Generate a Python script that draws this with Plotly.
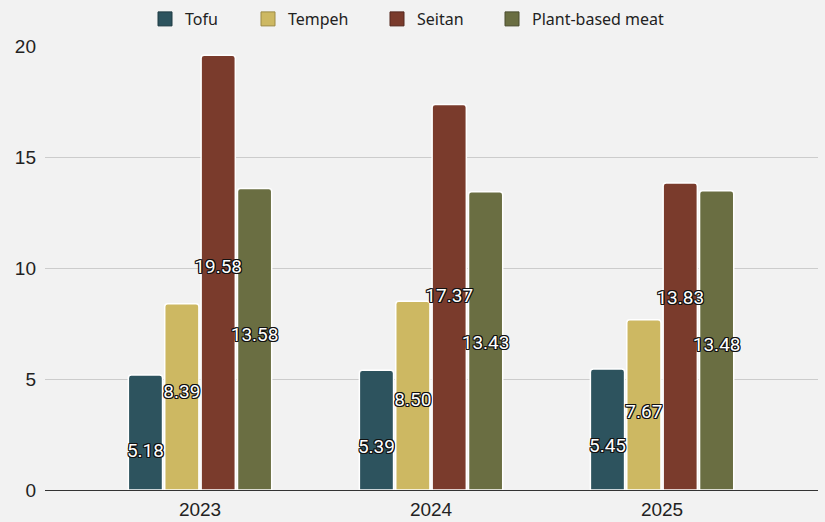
import plotly.graph_objects as go

years = ["2023", "2024", "2025"]
series_names = ["Tofu", "Tempeh", "Seitan", "Plant-based meat"]
tofu = [5.18, 5.39, 5.45]
tempeh = [8.39, 8.50, 7.67]
seitan = [19.58, 17.37, 13.83]
plant_meat = [13.58, 13.43, 13.48]
y_ticks = [0, 5, 10, 15, 20]

# where each value label sits, as a fraction of its bar's height (layout only)
label_frac_tofu = [0.33, 0.35, 0.35]
label_frac_tempeh = [0.52, 0.47, 0.45]
label_frac_seitan = [0.51, 0.50, 0.62]
label_frac_plant = [0.51, 0.49, 0.48]

values = [tofu, tempeh, seitan, plant_meat]
label_fracs = [label_frac_tofu, label_frac_tempeh, label_frac_seitan, label_frac_plant]
colors = ["#2d535e", "#cdb862", "#7a3b2c", "#6a6e42"]
edge_colors = ["#1f3a42", "#9c8a45", "#55291f", "#4a4d2e"]
legend_ids = ["legend", "legend2", "legend3", "legend4"]
legend_x = [145, 248, 377, 492]

W, H = 825, 522
outline = ("1px 1px 0 #111, -1px -1px 0 #111, 1px -1px 0 #111, -1px 1px 0 #111, "
           "0 1px 0 #111, 0 -1px 0 #111, 1px 0 0 #111, -1px 0 0 #111")

fig = go.Figure()
for i, (name, vals, col) in enumerate(zip(series_names, values, colors)):
    fig.add_trace(go.Bar(
        name=name, x=years, y=vals,
        marker=dict(color=col, line=dict(color="white", width=1.5), cornerradius=3),
        offsetgroup=str(i), alignmentgroup="a",
        showlegend=False,
        hoverinfo="skip",
    ))

# value labels drawn above all bars
for i, (name, vals, fr) in enumerate(zip(series_names, values, label_fracs)):
    fig.add_trace(go.Scatter(
        x=years, y=[v * f for v, f in zip(vals, fr)],
        mode="text", text=[f"{v:.2f}" for v in vals],
        textposition="middle center",
        textfont=dict(family="Roboto", size=19, color="white", shadow=outline),
        offsetgroup=str(i), alignmentgroup="a",
        showlegend=False, hoverinfo="skip",
    ))

# legend entries with square swatches
for i, (name, col, ec, lg) in enumerate(zip(series_names, colors, edge_colors, legend_ids)):
    fig.add_trace(go.Scatter(
        name=name, x=[None], y=[None], mode="markers",
        marker=dict(symbol="square", size=14, color=col, line=dict(color=ec, width=1)),
        offsetgroup=str(i), alignmentgroup="a",
        legend=lg, showlegend=True, hoverinfo="skip",
    ))

layout_legends = {}
for lg, lx in zip(legend_ids, legend_x):
    layout_legends[lg] = dict(
        x=lx / W, xref="container", xanchor="left",
        y=1 - 19 / H, yref="container", yanchor="middle",
        orientation="h", bgcolor="rgba(0,0,0,0)",
        font=dict(family="Noto Sans", size=16, color="#222"),
        itemwidth=30,
    )

fig.update_layout(
    width=W, height=H,
    paper_bgcolor="#f2f2f2", plot_bgcolor="#f2f2f2",
    margin=dict(l=45, r=7, t=46, b=32, autoexpand=False),
    barmode="group", bargap=0.37, bargroupgap=0.06,
    scattermode="group", scattergap=0.37,
    showlegend=True,
    **layout_legends,
    xaxis=dict(
        type="category", range=[-0.671, 2.675],
        showgrid=False, showline=True, linecolor="#333", linewidth=1.2,
        ticks="", tickfont=dict(family="Liberation Sans", size=19, color="#222"),
        ticklabelstandoff=2,
        fixedrange=True,
    ),
    yaxis=dict(
        range=[0, 20], tickvals=y_ticks, showgrid=True, gridcolor="#cccccc", gridwidth=1,
        zeroline=False, showline=False, ticks="",
        tickfont=dict(family="Liberation Sans", size=19, color="#222"),
        ticklabelstandoff=8,
    ),
)

fig.write_html(
    "out.html",
    config={"displayModeBar": False},
    post_script="document.body.style.margin='0';document.body.style.background='#f2f2f2';",
)
